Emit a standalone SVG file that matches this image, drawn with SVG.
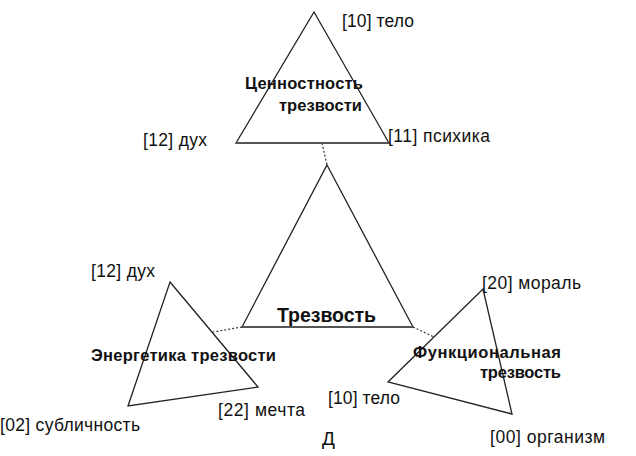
<svg xmlns="http://www.w3.org/2000/svg" width="636" height="456" viewBox="0 0 636 456">
<style>
.tri{fill:none;stroke:#222;stroke-width:1.3;stroke-linejoin:miter}
.base{stroke:#555;stroke-width:2}
.con{stroke:#333;stroke-width:1.2;stroke-dasharray:2 2;fill:none}
.lbl{font-family:"Liberation Sans",Arial,sans-serif;font-size:17.5px;fill:#111}
.ttl{font-family:"Liberation Sans",Arial,sans-serif;font-size:16.5px;font-weight:bold;fill:#111}
.big{font-family:"Liberation Sans",Arial,sans-serif;font-size:19.5px;font-weight:bold;fill:#111}
</style>
<rect width="636" height="456" fill="#fff"/>
<g id="connectors">
<line class="con" x1="322" y1="143" x2="327" y2="165"/>
<line class="con" x1="242" y1="327" x2="213" y2="332"/>
<line class="con" x1="413" y1="327" x2="434" y2="337"/>
</g>
<g id="value">
<polygon class="tri" points="314,12 389,143 236,143"/>
<line class="tri base" x1="236" y1="143" x2="389" y2="143"/>
<text class="lbl" x="342" y="27" textLength="72">[10] тело</text>
<text class="lbl" x="143" y="146" textLength="64">[12] дух</text>
<text class="lbl" x="388" y="142" textLength="102">[11] психика</text>
<text class="ttl" x="245" y="89" textLength="118">Ценностность</text>
<text class="ttl" x="279" y="111" textLength="83">трезвости</text>
</g>
<g id="sobriety">
<polygon class="tri" points="327,165 413,327 242,327"/>
<line class="tri base" x1="242" y1="327" x2="413" y2="327"/>
<text class="big" x="277" y="322" textLength="99">Трезвость</text>
</g>
<g id="energy">
<polygon class="tri" points="170,282 258,387 128,406"/>
<text class="lbl" x="91" y="277" textLength="64">[12] дух</text>
<text class="ttl" x="91" y="361" textLength="185">Энергетика трезвости</text>
<text class="lbl" x="0" y="431" textLength="140">[02] субличность</text>
<text class="lbl" x="218" y="416" textLength="87">[22] мечта</text>
</g>
<g id="functional">
<polygon class="tri" points="483,289 512,414 388,382"/>
<text class="lbl" x="482" y="289" textLength="99">[20] мораль</text>
<text class="ttl" x="413" y="358" textLength="148">Функциональная</text>
<text class="ttl" x="480" y="378" textLength="81">трезвость</text>
<text class="lbl" x="328" y="404" textLength="72">[10] тело</text>
<text class="lbl" x="490" y="443" textLength="115">[00] организм</text>
</g>
<text class="lbl" x="322" y="445" style="font-size:19px">Д</text>
</svg>
